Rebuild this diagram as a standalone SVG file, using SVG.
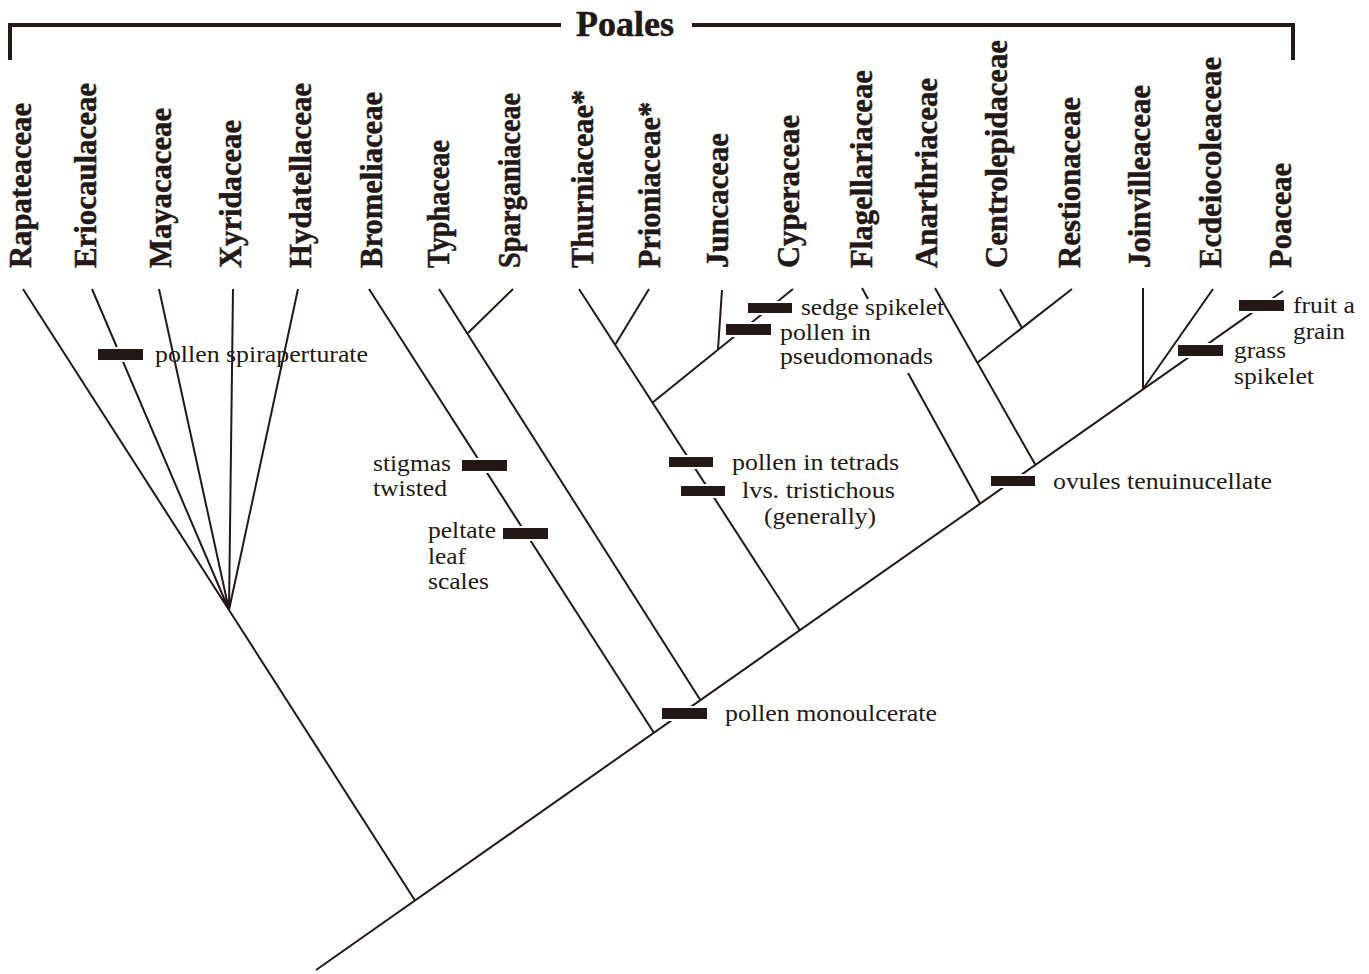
<svg xmlns="http://www.w3.org/2000/svg" width="1369" height="974" viewBox="0 0 1369 974">
<style>
.ln{stroke:#231815;stroke-width:2;fill:none;stroke-linecap:butt}
.br{stroke:#231815;stroke-width:4;fill:none}
.bar{fill:#231815;stroke:#ffffff;stroke-width:2}
.tx{font-family:"Liberation Serif","Times New Roman",serif;font-size:23px;fill:#231815}
.lb{font-family:"Liberation Serif","Times New Roman",serif;font-size:30.5px;font-weight:bold;fill:#231815;stroke:#231815;stroke-width:0.5}
.ti{font-family:"Liberation Serif","Times New Roman",serif;font-size:36px;font-weight:bold;fill:#231815;stroke:#231815;stroke-width:0.5}
</style>
<rect width="1369" height="974" fill="#ffffff"/>
<g id="poales-bracket">
<path class="br" d="M10,60 V25 H561 M692,25 H1293 V60"/>
<text class="ti" x="576" y="36" textLength="98" lengthAdjust="spacingAndGlyphs">Poales</text>
</g>
<g id="connectors">
<path class="ln" d="M316,970 L1283,291"/>
<path class="ln" d="M415,900.5 L229,610"/>
<path class="ln" d="M229,610 L23,289 M229,610 L92,289 M229,610 L159,289 M229,610 L233,289 M229,610 L298,289"/>
<path class="ln" d="M369,289 L654,733"/>
<path class="ln" d="M439,289 L700,699.5"/>
<path class="ln" d="M513,289 L468,333"/>
<path class="ln" d="M579,289 L800,630.5"/>
<path class="ln" d="M649,289 L615,345"/>
<path class="ln" d="M793,289 L652,403"/>
<path class="ln" d="M722,290 L718,349"/>
<path class="ln" d="M862,288 L868,299 M908,373 L980,503.5"/>
<path class="ln" d="M935,288 L1035.5,465"/>
<path class="ln" d="M1072,289 L977,363"/>
<path class="ln" d="M1000,289 L1022,328"/>
<path class="ln" d="M1143,288 L1143,389"/>
<path class="ln" d="M1213,289 L1143,389"/>
</g>
<g id="taxa">
<g id="t-rapateaceae"><text class="lb" transform="translate(31,268) rotate(-90)" textLength="165" lengthAdjust="spacingAndGlyphs">Rapateaceae</text></g>
<g id="t-eriocaulaceae"><text class="lb" transform="translate(96,268) rotate(-90)" textLength="185" lengthAdjust="spacingAndGlyphs">Eriocaulaceae</text></g>
<g id="t-mayacaceae"><text class="lb" transform="translate(171,268) rotate(-90)" textLength="160" lengthAdjust="spacingAndGlyphs">Mayacaceae</text></g>
<g id="t-xyridaceae"><text class="lb" transform="translate(241,268) rotate(-90)" textLength="148" lengthAdjust="spacingAndGlyphs">Xyridaceae</text></g>
<g id="t-hydatellaceae"><text class="lb" transform="translate(311,268) rotate(-90)" textLength="185" lengthAdjust="spacingAndGlyphs">Hydatellaceae</text></g>
<g id="t-bromeliaceae"><text class="lb" transform="translate(382,268) rotate(-90)" textLength="176" lengthAdjust="spacingAndGlyphs">Bromeliaceae</text></g>
<g id="t-typhaceae"><text class="lb" transform="translate(449,268) rotate(-90)" textLength="128" lengthAdjust="spacingAndGlyphs">Typhaceae</text></g>
<g id="t-sparganiaceae"><text class="lb" transform="translate(520,268) rotate(-90)" textLength="175" lengthAdjust="spacingAndGlyphs">Sparganiaceae</text></g>
<g id="t-thurniaceae"><text class="lb" transform="translate(593,268) rotate(-90)" textLength="178" lengthAdjust="spacingAndGlyphs">Thurniaceae*</text></g>
<g id="t-prioniaceae"><text class="lb" transform="translate(660,268) rotate(-90)" textLength="166" lengthAdjust="spacingAndGlyphs">Prioniaceae*</text></g>
<g id="t-juncaceae"><text class="lb" transform="translate(728,268) rotate(-90)" textLength="135" lengthAdjust="spacingAndGlyphs">Juncaceae</text></g>
<g id="t-cyperaceae"><text class="lb" transform="translate(799,268) rotate(-90)" textLength="153" lengthAdjust="spacingAndGlyphs">Cyperaceae</text></g>
<g id="t-flagellariaceae"><text class="lb" transform="translate(872,268) rotate(-90)" textLength="198" lengthAdjust="spacingAndGlyphs">Flagellariaceae</text></g>
<g id="t-anarthriaceae"><text class="lb" transform="translate(937,268) rotate(-90)" textLength="190" lengthAdjust="spacingAndGlyphs">Anarthriaceae</text></g>
<g id="t-centrolepidaceae"><text class="lb" transform="translate(1007,268) rotate(-90)" textLength="228" lengthAdjust="spacingAndGlyphs">Centrolepidaceae</text></g>
<g id="t-restionaceae"><text class="lb" transform="translate(1080,268) rotate(-90)" textLength="171" lengthAdjust="spacingAndGlyphs">Restionaceae</text></g>
<g id="t-joinvilleaceae"><text class="lb" transform="translate(1150,268) rotate(-90)" textLength="183" lengthAdjust="spacingAndGlyphs">Joinvilleaceae</text></g>
<g id="t-ecdeiocoleaceae"><text class="lb" transform="translate(1221,268) rotate(-90)" textLength="211" lengthAdjust="spacingAndGlyphs">Ecdeiocoleaceae</text></g>
<g id="t-poaceae"><text class="lb" transform="translate(1291,268) rotate(-90)" textLength="105" lengthAdjust="spacingAndGlyphs">Poaceae</text></g>
</g>
<g id="characters">
<g id="c-spiraperturate"><rect class="bar" x="97" y="348" width="47" height="13"/><text class="tx" x="155" y="362" textLength="213" lengthAdjust="spacingAndGlyphs">pollen spiraperturate</text></g>
<g id="c-stigmas"><rect class="bar" x="461" y="459" width="47" height="13"/><text class="tx" x="373" y="471" textLength="78" lengthAdjust="spacingAndGlyphs">stigmas</text><text class="tx" x="373" y="496" textLength="74" lengthAdjust="spacingAndGlyphs">twisted</text></g>
<g id="c-peltate"><rect class="bar" x="502" y="527" width="47" height="13"/><text class="tx" x="428" y="538" textLength="68" lengthAdjust="spacingAndGlyphs">peltate</text><text class="tx" x="428" y="564" textLength="38" lengthAdjust="spacingAndGlyphs">leaf</text><text class="tx" x="428" y="589" textLength="61" lengthAdjust="spacingAndGlyphs">scales</text></g>
<g id="c-tetrads"><rect class="bar" x="668" y="456" width="46" height="12"/><text class="tx" x="732" y="470" textLength="167" lengthAdjust="spacingAndGlyphs">pollen in tetrads</text></g>
<g id="c-tristichous"><rect class="bar" x="680" y="485" width="46" height="12"/><text class="tx" x="742" y="498" textLength="153" lengthAdjust="spacingAndGlyphs">lvs. tristichous</text><text class="tx" x="764" y="524" textLength="112" lengthAdjust="spacingAndGlyphs">(generally)</text></g>
<g id="c-sedge"><rect class="bar" x="747" y="302" width="46" height="12"/><text class="tx" x="801" y="315" textLength="143" lengthAdjust="spacingAndGlyphs">sedge spikelet</text></g>
<g id="c-pseudomonads"><rect class="bar" x="725" y="323" width="47" height="13"/><text class="tx" x="780" y="340" textLength="91" lengthAdjust="spacingAndGlyphs">pollen in</text><text class="tx" x="780" y="364" textLength="153" lengthAdjust="spacingAndGlyphs">pseudomonads</text></g>
<g id="c-ovules"><rect class="bar" x="990" y="475" width="46" height="12"/><text class="tx" x="1053" y="489" textLength="219" lengthAdjust="spacingAndGlyphs">ovules tenuinucellate</text></g>
<g id="c-monoulcerate"><rect class="bar" x="661" y="707" width="47" height="13"/><text class="tx" x="725" y="721" textLength="212" lengthAdjust="spacingAndGlyphs">pollen monoulcerate</text></g>
<g id="c-grain"><rect class="bar" x="1238" y="299" width="47" height="13"/><text class="tx" x="1293" y="313" textLength="62" lengthAdjust="spacingAndGlyphs">fruit a</text><text class="tx" x="1293" y="339" textLength="52" lengthAdjust="spacingAndGlyphs">grain</text></g>
<g id="c-grass"><rect class="bar" x="1177" y="344" width="47" height="13"/><text class="tx" x="1234" y="358" textLength="52" lengthAdjust="spacingAndGlyphs">grass</text><text class="tx" x="1234" y="384" textLength="80" lengthAdjust="spacingAndGlyphs">spikelet</text></g>
</g>
</svg>
